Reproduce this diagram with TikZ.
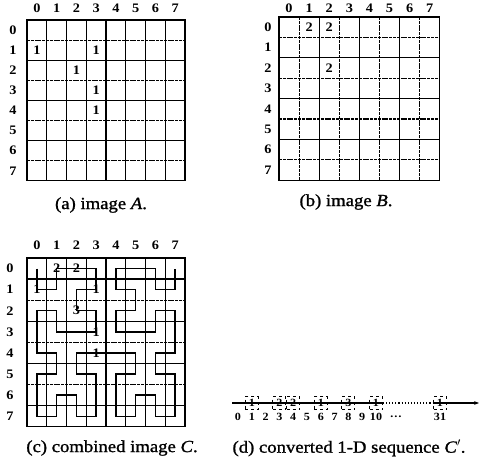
\documentclass[tikz,border=0pt]{standalone}
\usepackage{fontspec}
\setmainfont{Liberation Serif}[FakeStretch=1.1]
\newfontfamily\captfont{Liberation Serif}[FakeStretch=1.1,FakeBold=1.2]
\usetikzlibrary{arrows.meta,positioning,calc}

\tikzset{
  solidline/.style={line width=1.2pt},
  brokenline/.style={line width=1.1pt,dash pattern=on 3pt off 0.8pt},
  axisnum/.style={font=\fontsize{13}{13}\selectfont\bfseries,inner sep=0pt},
  cellval/.style={font=\fontsize{13}{13}\selectfont\bfseries,inner sep=0pt},
  capt/.style={font=\captfont\fontsize{17}{17}\selectfont,inner sep=0pt},
  hilbert/.style={line width=1.4pt,line join=miter},
  numline/.style={line width=1.1pt},
  seqbox/.style={draw,dashed,line width=0.9pt,minimum width=13pt,minimum height=13pt,inner sep=0pt,font=\fontsize{11}{11}\selectfont\bfseries},
  seqnum/.style={font=\fontsize{11}{11}\selectfont\bfseries,inner sep=0pt},
}

\begin{document}
\begin{tikzpicture}[x=1pt,y=-1pt]
  \useasboundingbox (0,0) rectangle (482,462);

  % (a) image A
  \begin{scope}[shift={(27,20)},x=19.75pt,y=-20.1pt]
    \foreach \k in {1,3,5,7} \draw[brokenline] (0,\k) -- (8,\k);
    \foreach \k in {2,4,6} \draw[solidline] (0,\k) -- (8,\k);
    \foreach \k in {1,...,7} \draw[solidline] (\k,0) -- (\k,8);
    \draw[solidline] (0,0) rectangle (8,8);
    \foreach \k in {0,...,7} {
      \node[axisnum] (acol\k) at (\k+0.5,-0.6) {\k};
      \node[axisnum] (arow\k) at (-0.71,\k+0.5) {\k};
    }
    \node[cellval] (a10) at (0.5,1.5) {1};
    \node[cellval] (a13) at (3.5,1.5) {1};
    \node[cellval] (a22) at (2.5,2.5) {1};
    \node[cellval] (a33) at (3.5,3.5) {1};
    \node[cellval] (a43) at (3.5,4.5) {1};
  \end{scope}
  \node[capt] (capa) at (101,205) {(a) image \textit{A}.};

  % (b) image B
  \begin{scope}[shift={(279,17)},x=20.1pt,y=-20.4pt]
    \foreach \k in {1,3,5,7} {
      \draw[brokenline] (0,\k) -- (8,\k);
      \draw[brokenline] (\k,0) -- (\k,8);
    }
    \foreach \k in {2,4,6} {
      \draw[solidline] (0,\k) -- (8,\k);
      \draw[solidline] (\k,0) -- (\k,8);
    }
    \draw[solidline] (0,0) rectangle (8,8);
    \foreach \k in {0,...,7} {
      \node[axisnum] (bcol\k) at (\k+0.5,-0.45) {\k};
      \node[axisnum] (brow\k) at (-0.55,\k+0.5) {\k};
    }
    \node[cellval] (b01) at (1.5,0.5) {2};
    \node[cellval] (b02) at (2.5,0.5) {2};
    \node[cellval] (b22) at (2.5,2.5) {2};
  \end{scope}
  \node[capt] (capb) at (346,202) {(b) image \textit{B}.};

  % (c) combined image C with the scan path
  \begin{scope}[shift={(27,258)},x=19.75pt,y=-21.1pt]
    \foreach \k in {2,4,6} \draw[brokenline] (0,\k) -- (8,\k);
    \foreach \k in {1,3,5,7} \draw[solidline] (0,\k) -- (8,\k);
    \foreach \k in {1,...,7} \draw[solidline] (\k,0) -- (\k,8);
    \draw[solidline] (0,0) rectangle (8,8);
    \foreach \k in {0,...,7} {
      \node[axisnum] (ccol\k) at (\k+0.5,-0.62) {\k};
      \node[axisnum] (crow\k) at (-0.86,\k+0.5) {\k};
    }
    \draw[hilbert,shift={(0.5,0.5)}]
      (0,0) -- (0,1) -- (1,1) -- (1,0) -- (2,0) -- (3,0) -- (3,1) -- (2,1)
      -- (2,2) -- (3,2) -- (3,3) -- (2,3) -- (1,3) -- (1,2) -- (0,2) -- (0,3)
      -- (0,4) -- (1,4) -- (1,5) -- (0,5) -- (0,6) -- (0,7) -- (1,7) -- (1,6)
      -- (2,6) -- (2,7) -- (3,7) -- (3,6) -- (3,5) -- (2,5) -- (2,4) -- (3,4)
      -- (4,4) -- (5,4) -- (5,5) -- (4,5) -- (4,6) -- (4,7) -- (5,7) -- (5,6)
      -- (6,6) -- (6,7) -- (7,7) -- (7,6) -- (7,5) -- (6,5) -- (6,4) -- (7,4)
      -- (7,3) -- (7,2) -- (6,2) -- (6,3) -- (5,3) -- (4,3) -- (4,2) -- (5,2)
      -- (5,1) -- (4,1) -- (4,0) -- (5,0) -- (6,0) -- (6,1) -- (7,1) -- (7,0);
    \node[cellval] (c01) at (1.5,0.5) {2};
    \node[cellval] (c02) at (2.5,0.5) {2};
    \node[cellval] (c10) at (0.5,1.5) {1};
    \node[cellval] (c13) at (3.5,1.5) {1};
    \node[cellval] (c22) at (2.5,2.5) {3};
    \node[cellval] (c33) at (3.5,3.5) {1};
    \node[cellval] (c43) at (3.5,4.5) {1};
  \end{scope}
  \node[capt] (capc) at (112,448) {(c) combined image \textit{C}.};

  % (d) 1-D sequence
  \coordinate (lstart) at (232,403);
  \coordinate (lend) at (479,403);
  \foreach \k in {0,...,10} \coordinate (p\k) at (238+13.8*\k,403);
  \coordinate (p31) at (440,403);
  \node[seqbox] (s1) at (p1) {1};
  \node[seqbox] (s3) at (p3) {2};
  \node[seqbox] (s4) at (p4) {2};
  \node[seqbox] (s6) at (p6) {1};
  \node[seqbox] (s8) at (p8) {3};
  \node[seqbox] (s10) at (p10) {1};
  \node[seqbox] (s31) at (p31) {1};
  \draw[numline] (lstart) -- (s10.east);
  \draw[numline,dotted] (s10.east) -- (s31.west);
  \draw[numline,-{Stealth[length=5pt]}] (s31.west) -- (lend);
  \foreach \k in {0,...,10} \node[seqnum,below=10pt of p\k] (t\k) {\k};
  \node[seqnum,below=10pt of p31] (t31) {31};
  \node[seqnum] (tdots) at (396,417) {\dots};
  \node[capt] (capd) at (349,448) {(d) converted 1-D sequence \textit{C}$'$.};
\end{tikzpicture}
\end{document}
